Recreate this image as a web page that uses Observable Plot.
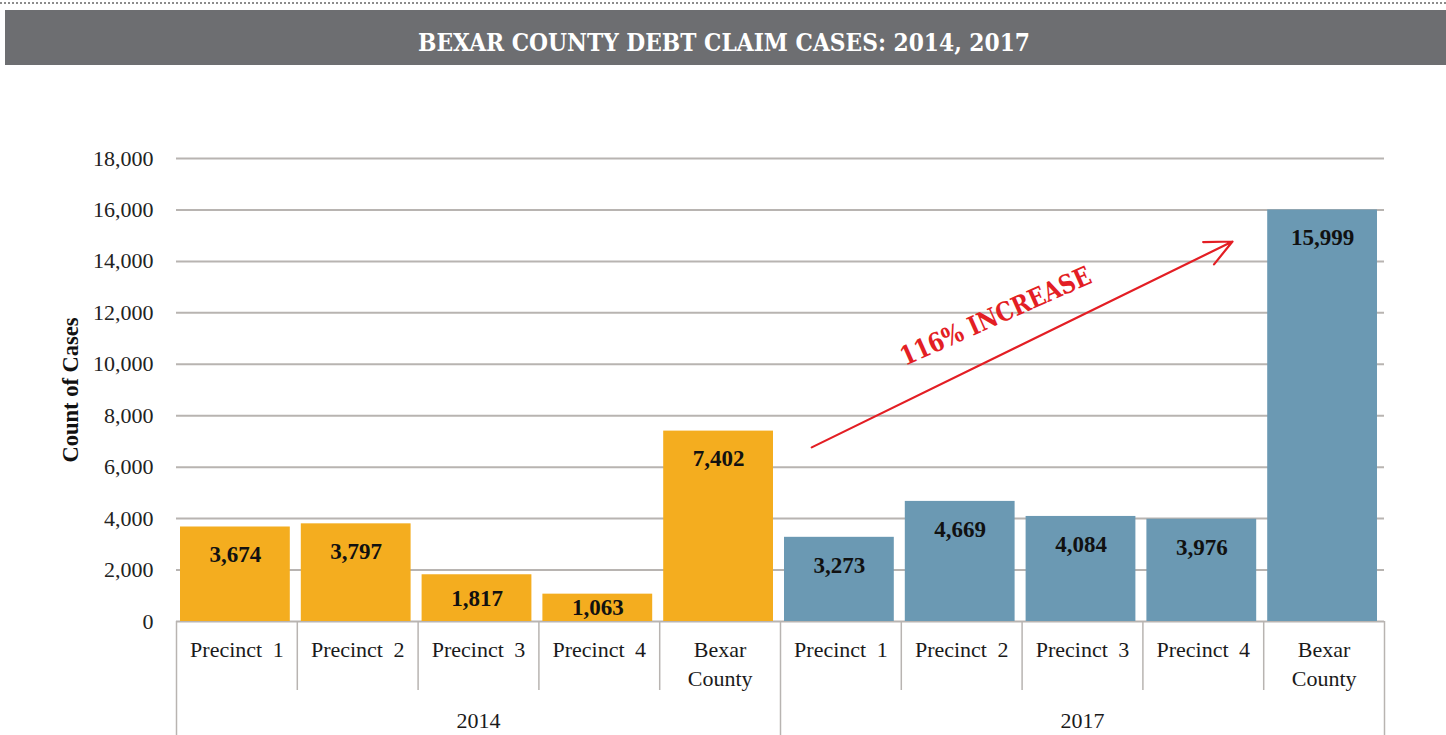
<!DOCTYPE html>
<html><head><meta charset="utf-8">
<script src="https://cdn.jsdelivr.net/npm/d3@7"></script>
<script src="https://cdn.jsdelivr.net/npm/@observablehq/plot@0.6"></script>
<style>
body{margin:0;background:#fff;width:1446px;height:735px;overflow:hidden}
#header{position:relative;height:80px;width:1446px}
#dots{position:absolute;top:2px;left:0;width:1446px;height:0;border-top:2px dotted #8c8c8c}
#titlebar{position:absolute;top:10px;left:5px}
#chart svg{display:block}
.cat text{word-spacing:5px}
.slabnote text, text.slabnote{font-family:"DejaVu Serif";}
</style></head><body>
<div id="header">
  <div id="dots"></div>
  <svg id="titlebar" width="1441" height="55">
    <rect width="1441" height="55" fill="#6d6e71"></rect>
    <text x="719" y="41" text-anchor="middle" fill="#fff" font-family="DejaVu Serif" font-weight="bold" font-size="24" textLength="612" lengthAdjust="spacingAndGlyphs">BEXAR COUNTY DEBT CLAIM CASES: 2014, 2017</text>
  </svg>
</div>
<div id="chart"></div>
<script>
// ---- data ----
const years = ["2014", "2017"];
const places = ["Precinct 1", "Precinct 2", "Precinct 3", "Precinct 4", "Bexar\nCounty"];
const cases2014 = [3674, 3797, 1817, 1063, 7402];
const cases2017 = [3273, 4669, 4084, 3976, 15999];
const yTicks = [0, 2000, 4000, 6000, 8000, 10000, 12000, 14000, 16000, 18000];
const barColors = ["#f4ad1f", "#6b99b3"];
const annotationText = "116% INCREASE";

// ---- build table ----
const series = [cases2014, cases2017];
const data = years.flatMap((yr, i) => places.map((p, j) => ({
  year: yr, place: p, key: yr + "|" + p, value: series[i][j], first: j === 0
})));

const W = 1446, H = 655, ML = 176, MR = 62, MT = 78, MB = 114;
const bw = (W - ML - MR) / data.length;
const unitsPerPx = 18000 / (H - MT - MB);
const grid = "#b8b4b1";
const fmt = d3.format(",");

const chart = Plot.plot({
  width: W, height: H,
  marginLeft: ML, marginRight: MR, marginTop: MT, marginBottom: MB,
  style: {fontFamily: "Liberation Serif, Times New Roman, serif", fontSize: "22px", color: "#1a1a1a", background: "#fff"},
  x: {type: "band", domain: data.map(d => d.key), padding: 0, round: false, axis: null},
  y: {domain: [0, 18000], axis: null},
  color: {domain: years, range: barColors},
  marks: [
    Plot.ruleY(yTicks, {stroke: grid, strokeWidth: 2}),
    Plot.axisY(yTicks, {tickSize: 0, tickPadding: 23, tickFormat: d => fmt(d), label: null, fill: "#222"}),
    Plot.text(["Count of Cases"], {frameAnchor: "left", textAnchor: "middle", rotate: -90, dx: -106, fontWeight: "bold", fontSize: 22.5, fill: "#111"}),
    Plot.barY(data, {x: "key", y: "value", fill: "year", insetLeft: 4, insetRight: 7}),
    Plot.text(data, {
      x: "key",
      y: d => Math.max(d.value - 28 * unitsPerPx, d.value / 2),
      text: d => fmt(d.value), fontWeight: "bold", fontSize: 23, fill: "#111", dx: -1.5
    }),
    // category separators
    Plot.ruleX(data.filter(d => !d.first), {x: "key", dx: -bw / 2, insetTop: H - MT - MB, insetBottom: -69, stroke: grid, strokeWidth: 1.5}),
    Plot.ruleX(data.filter(d => d.first), {x: "key", dx: -bw / 2, insetTop: H - MT - MB, insetBottom: -MB, stroke: grid, strokeWidth: 1.5}),
    Plot.ruleX(data.slice(-1), {x: "key", dx: bw / 2, insetTop: H - MT - MB, insetBottom: -MB, stroke: grid, strokeWidth: 1.5}),
    Plot.text(data, {x: "key", frameAnchor: "bottom", text: "place", lineAnchor: "top", dy: 15, lineHeight: 1.32, fill: "#1a1a1a", className: "cat"}),
    Plot.text(years, {x: d => d + "|Precinct 3", frameAnchor: "bottom", text: d => d, lineAnchor: "middle", dy: 99, fill: "#1a1a1a"}),
    // annotation arrow
    Plot.arrow([{x1: data[4].key, y1: 5027, x2: data[9].key, y2: 16515}], {
      x1: "x1", y1: "y1", x2: "x2", y2: "y2", stroke: "#e31e24", strokeWidth: 2.2,
      insetStart: 102, insetEnd: 102, headLength: 20, headAngle: 50
    }),
    Plot.text([annotationText], {x: () => data[6].key, y: () => 11857, dx: 34, text: d => d, rotate: -24,
      fill: "#e31e24", fontWeight: "bold", fontSize: 26, className: "slabnote"})
  ]
});
document.getElementById("chart").appendChild(chart);
chart.querySelectorAll(".slabnote text").forEach(t => {
  t.setAttribute("textLength", "206");
  t.setAttribute("lengthAdjust", "spacingAndGlyphs");
});
</script>
</body></html>
